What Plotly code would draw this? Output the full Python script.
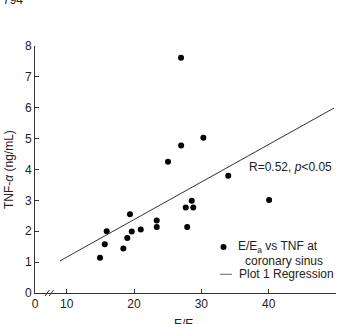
import plotly.graph_objects as go

# Data
ee_ratio = [26.98, 30.3, 27.0, 25.05, 34.0, 40.06, 28.57, 27.68, 28.8, 19.4,
            23.37, 23.37, 27.9, 21.0, 19.66, 15.94, 19.0, 15.65, 18.41, 14.95]
tnf = [7.62, 5.03, 4.78, 4.25, 3.80, 3.01, 2.99, 2.77, 2.77, 2.55,
       2.35, 2.14, 2.14, 2.06, 1.99, 2.00, 1.78, 1.58, 1.44, 1.14]
reg_x = [9.0, 49.7]
reg_y = [1.04, 5.99]
x_tickvals = [5.29, 10, 20, 30, 40, 50]
x_ticktext = ["0", "10", "20", "30", "40", "50"]
y_tickvals = [0, 1, 2, 3, 4, 5, 6, 7, 8]

W, H = 341, 324
L, R, T, B = 35, 5, 46, 31
PW, PH = W - L - R, H - T - B

def px(xp):
    return (xp - L) / PW

def py(yp):
    return (H - B - yp) / PH

FONT = "Liberation Sans, Arial, sans-serif"
AX = "#333333"

fig = go.Figure()
fig.add_trace(go.Scatter(x=ee_ratio, y=tnf, mode="markers",
                         marker=dict(color="black", size=6),
                         showlegend=False, hoverinfo="skip"))
fig.add_trace(go.Scatter(x=reg_x, y=reg_y, mode="lines",
                         line=dict(color="#333333", width=1),
                         showlegend=False, hoverinfo="skip"))

shapes = []
# axis break marks
for ax_px in (47.2, 51.3):
    shapes.append(dict(type="line", xref="paper", yref="paper",
                       xsizemode="pixel", ysizemode="pixel",
                       xanchor=px(ax_px), yanchor=0,
                       x0=-2.2, x1=2.2, y0=-3, y1=3,
                       line=dict(color=AX, width=1)))
# legend symbols
shapes.append(dict(type="circle", xref="paper", yref="paper",
                   xsizemode="pixel", ysizemode="pixel",
                   xanchor=px(223.5), yanchor=py(247),
                   x0=-3, x1=3, y0=-3, y1=3,
                   fillcolor="black", line=dict(color="black", width=0)))
shapes.append(dict(type="line", xref="paper", yref="paper",
                   x0=px(220), x1=px(232), y0=py(274.3), y1=py(274.3),
                   line=dict(color="#666666", width=1)))

annotations = [
    dict(text="E/E<sub>a</sub> vs TNF at", x=px(236), y=py(247),
         xanchor="left", yanchor="middle"),
    dict(text="coronary sinus", x=px(243), y=py(260.5),
         xanchor="left", yanchor="middle"),
    dict(text="Plot 1 Regression", x=px(237), y=py(274.3),
         xanchor="left", yanchor="middle"),
    dict(text="R=0.52, <i>p</i><0.05", x=px(247), y=py(166.7),
         xanchor="left", yanchor="middle"),
    dict(text="TNF-<i>α</i> (ng/mL)", x=px(9), y=py(170),
         xanchor="center", yanchor="middle", textangle=-90),
    dict(text="E/E<sub>a</sub>", x=px(186), y=py(315),
         xanchor="center", yanchor="top"),
    dict(text="794", x=px(1), y=py(9),
         xanchor="left", yanchor="bottom"),
]
for a in annotations:
    a.update(xref="paper", yref="paper", showarrow=False,
             font=dict(family=FONT, size=12, color="#222222"))

fig.update_layout(
    width=W, height=H,
    margin=dict(l=L, r=R, t=T, b=B, pad=0),
    paper_bgcolor="white", plot_bgcolor="white",
    font=dict(family=FONT, size=12, color="#222222"),
    shapes=shapes, annotations=annotations,
    xaxis=dict(range=[5.29, 50], tickvals=x_tickvals, ticktext=x_ticktext,
               ticks="inside", ticklen=4, tickcolor=AX, showline=True,
               linecolor=AX, linewidth=1, showgrid=False, zeroline=False,
               fixedrange=True),
    yaxis=dict(range=[0, 8], tickvals=y_tickvals, ticks="inside", ticklen=4,
               tickcolor=AX, showline=True, linecolor=AX, linewidth=1,
               showgrid=False, zeroline=False, fixedrange=True),
)

fig.write_html("out.html")
